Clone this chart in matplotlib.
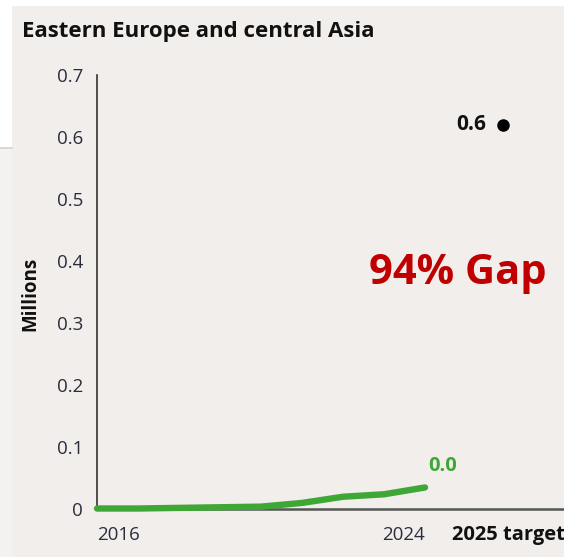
import matplotlib
matplotlib.use("Agg")
import matplotlib.pyplot as plt
from matplotlib.patches import Rectangle
from matplotlib.lines import Line2D

# ---- data ----
years = [2016, 2017, 2018, 2019, 2020, 2021, 2022, 2023, 2024]
values = [0.0, 0.0, 0.001, 0.002, 0.003, 0.009, 0.019, 0.023, 0.034]
target_value = 0.62
target_label = "0.6"
last_label = "0.0"
gap_label = "94% Gap"
title = "Eastern Europe and central Asia"
ylabel = "Millions"
yticks = [0, 0.1, 0.2, 0.3, 0.4, 0.5, 0.6, 0.7]
ytick_labels = ["0", "0.1", "0.2", "0.3", "0.4", "0.5", "0.6", "0.7"]
target_xlabel = "2025 target"

W, H = 564, 557
fig = plt.figure(figsize=(W / 100, H / 100), dpi=100, facecolor="white")

BG = "#f1eeeb"
# panel background
fig.patches.append(Rectangle((12 / W, 0), 1 - 12 / W, (H - 6) / H, transform=fig.transFigure,
                             facecolor=BG, edgecolor="none", zorder=-10))
# left strip details
fig.patches.append(Rectangle((0, 0), 12 / W, (H - 149) / H, transform=fig.transFigure,
                             facecolor="#f3f2f1", edgecolor="none", zorder=-10))
fig.lines.append(Line2D([0, 12 / W], [(H - 148) / H] * 2, transform=fig.transFigure,
                        color="#cfcfcf", lw=1.2))

FONT = "Open Sans"
x0_px, x1_px = 97, 564
y0_px, y1_px = 508.5, 75.5
ax = fig.add_axes([x0_px / W, (H - y0_px) / H, (x1_px - x0_px) / W, (y0_px - y1_px) / H])
ax.set_facecolor("none")
px_per_year = 41.0
ax.set_xlim(0, (x1_px - x0_px) / px_per_year)
ax.set_ylim(0, 0.7)

xs = [y - years[0] for y in years]
ax.plot(xs, values, color="#3ea736", lw=4.6, solid_capstyle="round", solid_joinstyle="round",
        clip_on=False, zorder=5)

target_x = 9.9
ax.plot([target_x], [target_value], "o", color="black", markersize=8, clip_on=False, zorder=5)
ax.text(target_x - 0.4, target_value, target_label, ha="right", va="center",
        fontsize=15, fontweight="bold", family=FONT, color="#111111")

ax.text(xs[-1] + 0.43, values[-1] + 0.035, last_label, ha="center", va="center",
        fontsize=14.5, fontweight="bold", family=FONT, color="#3ea736")

ax.text(8.8, 0.38, gap_label, ha="center", va="center", fontsize=30, fontweight="bold",
        family=FONT, color="#c00000")

# spines
for s in ["top", "right"]:
    ax.spines[s].set_visible(False)
ax.spines["left"].set_color("#333333")
ax.spines["left"].set_linewidth(1.2)
ax.spines["bottom"].set_color("#555555")
ax.spines["bottom"].set_linewidth(1.8)

ax.set_yticks(yticks)
ax.set_yticklabels(ytick_labels, fontsize=13.5, family=FONT, color="#2b2d3d")
ax.tick_params(axis="y", length=0, pad=10)
ax.set_xticks([])

# x labels
ax.text(xs[0], -0.043, str(years[0]), ha="left", va="center", fontsize=13.5, family=FONT,
        color="#2b2d3d")
ax.text(xs[-1], -0.043, str(years[-1]), ha="right", va="center", fontsize=13.5, family=FONT,
        color="#2b2d3d")
ax.text((452 - x0_px) / px_per_year, -0.043, target_xlabel, ha="left", va="center",
        fontsize=14.5, fontweight="bold", family=FONT, color="#111111", clip_on=False)

fig.text(30 / W, (H - 294) / H, ylabel, rotation=90, ha="center", va="center", fontsize=13.5,
         fontweight="bold", family=FONT, color="#111111")
fig.text(22 / W, (H - 32) / H, title, ha="left", va="center", fontsize=16, fontweight="bold",
         family=FONT, color="#111111")

fig.savefig("out.png", dpi=100, facecolor="white")
